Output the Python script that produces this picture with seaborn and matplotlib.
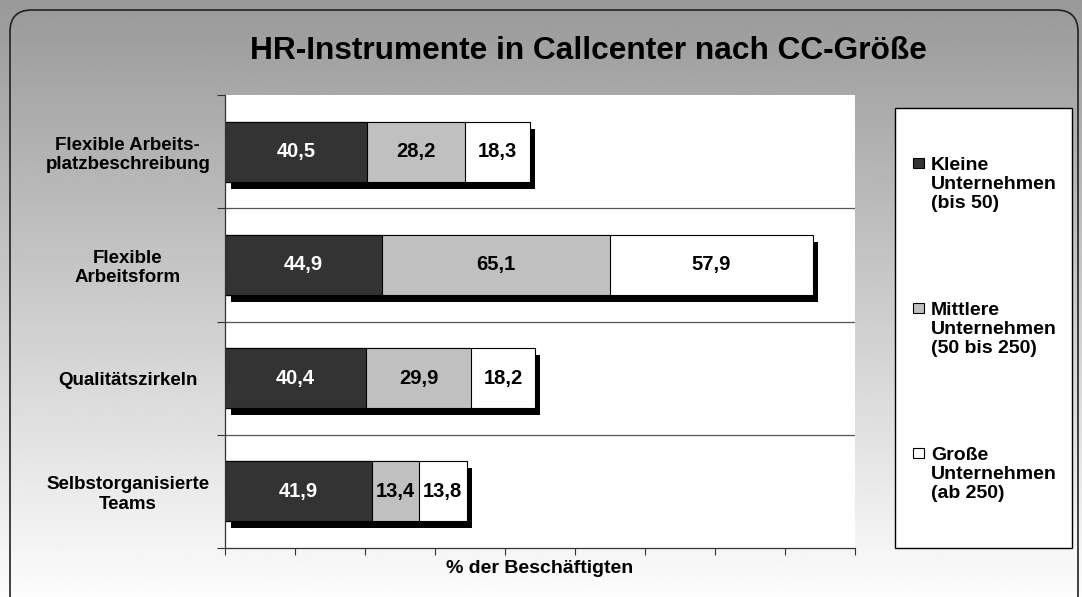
import numpy as np
import pandas as pd
import matplotlib
matplotlib.use('Agg')
import matplotlib.pyplot as plt
import matplotlib.patheffects as pe
from matplotlib.patches import FancyBboxPatch, Rectangle
import seaborn as sns

# Daten
kategorien = ['Flexible Arbeits-\nplatzbeschreibung', 'Flexible\nArbeitsform',
              'Qualitätszirkeln', 'Selbstorganisierte\nTeams']
kleine = [40.5, 44.9, 40.4, 41.9]
mittlere = [28.2, 65.1, 29.9, 13.4]
grosse = [18.3, 57.9, 18.2, 13.8]
serien = ['Kleine\nUnternehmen\n(bis 50)', 'Mittlere\nUnternehmen\n(50 bis 250)',
          'Große\nUnternehmen\n(ab 250)']
farben = ['#333333', '#c0c0c0', '#ffffff']
x_ticks = list(range(0, 181, 20))

sns.set_style('white')
plt.rcParams['font.family'] = ['Liberation Sans', 'DejaVu Sans']
plt.rcParams['font.weight'] = 'bold'
plt.rcParams['text.color'] = 'black'
plt.rcParams['axes.labelcolor'] = 'black'
plt.rcParams['xtick.color'] = 'black'
plt.rcParams['ytick.color'] = 'black'

df = pd.DataFrame({'kat': kategorien, 'k': kleine, 'm': mittlere, 'g': grosse})
df['km'] = df['k'] + df['m']
df['kmg'] = df['km'] + df['g']

W, H = 1082, 597
fig = plt.figure(figsize=(10.82, 5.97), dpi=100)

# Hintergrund mit Verlauf
bg = fig.add_axes([0, 0, 1, 1], zorder=-10)
grad = np.linspace(0.60, 0.99, 256).reshape(-1, 1)
bg.imshow(grad, aspect='auto', cmap='gray', vmin=0, vmax=1,
          extent=[0, 1, 0, 1], origin='upper')
bg.set_xlim(0, 1)
bg.set_ylim(0, 1)
bg.axis('off')
# Rahmen mit abgerundeten Ecken
rahmen = FancyBboxPatch((10 / W, -20 / H), 1068 / W, (H - 10 + 20) / H,
                        boxstyle='round,pad=0,rounding_size=0.02',
                        transform=bg.transAxes, facecolor='none',
                        edgecolor='#222222', linewidth=1.2, mutation_aspect=W / H)
bg.add_patch(rahmen)

ax = fig.add_axes([225 / W, 1 - 548 / H, 630 / W, (548 - 95) / H])
ax.set_facecolor('white')

# gestapelte Balken: Summen zuerst, dann die Teilsummen darüber
schatten = [pe.SimplePatchShadow(offset=(4, -5), shadow_rgbFace='black', alpha=1.0),
            pe.Normal()]
sns.barplot(data=df, x='kmg', y='kat', color=farben[2], edgecolor='black',
            linewidth=0.8, width=0.53, saturation=1, ax=ax, orient='h')
for p in ax.patches:
    p.set_path_effects(schatten)
sns.barplot(data=df, x='km', y='kat', color=farben[1], edgecolor='black',
            linewidth=0.8, width=0.53, saturation=1, ax=ax, orient='h')
sns.barplot(data=df, x='k', y='kat', color=farben[0], edgecolor='black',
            linewidth=0.8, width=0.53, saturation=1, ax=ax, orient='h')

# Werte in den Balken
for i in range(len(kategorien)):
    starts = [0, df['k'][i], df['km'][i]]
    werte = [df['k'][i], df['m'][i], df['g'][i]]
    for j, (s, v) in enumerate(zip(starts, werte)):
        ax.text(s + v / 2, i, f'{v:.1f}'.replace('.', ','), ha='center', va='center',
                fontsize=14.5, fontweight='bold',
                color='white' if j == 0 else 'black')

ax.set_xlim(0, 180)
ax.set_ylim(3.5, -0.5)
ax.set_xticks(x_ticks)
ax.set_xticklabels([])
ax.tick_params(axis='x', direction='out', length=5, width=0.8, color='#333333', bottom=True)
ax.set_yticks(range(len(kategorien)))
ax.set_yticklabels(kategorien, fontsize=13.5, fontweight='bold', ha='center',
                   multialignment='center')
ax.tick_params(axis='y', which='major', length=0, pad=70)
ax.set_yticks([-0.5, 0.5, 1.5, 2.5, 3.5], minor=True)
ax.tick_params(axis='y', which='minor', direction='out', length=6, width=0.8, color='#333333', left=True)
for yy in [0.5, 1.5, 2.5]:
    ax.axhline(yy, color='#555555', linewidth=0.9, zorder=0)
ax.set_xlabel('% der Beschäftigten', fontsize=14, fontweight='bold', labelpad=0)
ax.set_ylabel('')
for s in ['top', 'right']:
    ax.spines[s].set_visible(False)
for s in ['left', 'bottom']:
    ax.spines[s].set_color('#333333')
    ax.spines[s].set_linewidth(0.9)

fig.suptitle('HR-Instrumente in Callcenter nach CC-Größe', fontsize=22.8,
             fontweight='bold', x=588 / W, y=1 - 51 / H, va='center')

# Legende als eigener Kasten
fig.patches.append(Rectangle((895 / W, 1 - 548 / H), 177 / W, 440 / H,
                             transform=fig.transFigure, facecolor='white',
                             edgecolor='black', linewidth=1.0, zorder=1))
for k, (name, c) in enumerate(zip(serien, farben)):
    y_mitte = 163 + k * 145
    fig.patches.append(Rectangle((913 / W, 1 - (y_mitte + 5) / H), 11 / W, 10 / H,
                                 transform=fig.transFigure, facecolor=c,
                                 edgecolor='black', linewidth=0.8, zorder=2))
    fig.text(931 / W, 1 - (y_mitte - 6) / H, name, ha='left', va='top',
             fontsize=14, fontweight='bold', linespacing=1.15, zorder=3)

fig.savefig('out.png', dpi=100)
